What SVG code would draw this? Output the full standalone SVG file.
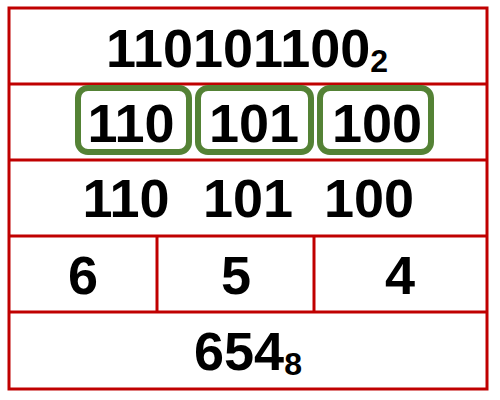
<svg xmlns="http://www.w3.org/2000/svg" width="500" height="400" viewBox="0 0 500 400">
<style>
.grid{fill:none;stroke:#C00000;stroke-width:3}
.box{fill:#fff;stroke:#548235;stroke-width:6}
.t{font-family:"Liberation Sans",Arial,sans-serif;font-weight:bold;font-size:54px;fill:#000;text-anchor:middle}
.s{font-size:32px}
</style>
<rect width="500" height="400" fill="#fff"/>
<g id="grid">
<rect class="grid" x="9" y="8" width="478" height="381"/>
<line class="grid" x1="9" y1="84" x2="487" y2="84"/>
<line class="grid" x1="9" y1="160" x2="487" y2="160"/>
<line class="grid" x1="9" y1="236" x2="487" y2="236"/>
<line class="grid" x1="9" y1="312" x2="487" y2="312"/>
<line class="grid" x1="157" y1="236" x2="157" y2="312"/>
<line class="grid" x1="314" y1="236" x2="314" y2="312"/>
</g>
<g id="row1"><text class="t" x="247" y="67">110101100<tspan class="s" dy="5">2</tspan></text></g>
<g id="group1"><rect class="box" x="78" y="88" width="111" height="64" rx="10"/><text class="t" x="131" y="142">110</text></g>
<g id="group2"><rect class="box" x="198" y="88" width="113" height="64" rx="10"/><text class="t" x="254" y="142">101</text></g>
<g id="group3"><rect class="box" x="320" y="88" width="111" height="64" rx="10"/><text class="t" x="377" y="142">100</text></g>
<g id="row3">
<text class="t" x="126" y="217">110</text>
<text class="t" x="248" y="217">101</text>
<text class="t" x="369" y="217">100</text>
</g>
<g id="row4">
<text class="t" x="83" y="294">6</text>
<text class="t" x="236" y="294">5</text>
<text class="t" x="400" y="294">4</text>
</g>
<g id="row5"><text class="t" x="248" y="370">654<tspan class="s" dy="5">8</tspan></text></g>
</svg>
